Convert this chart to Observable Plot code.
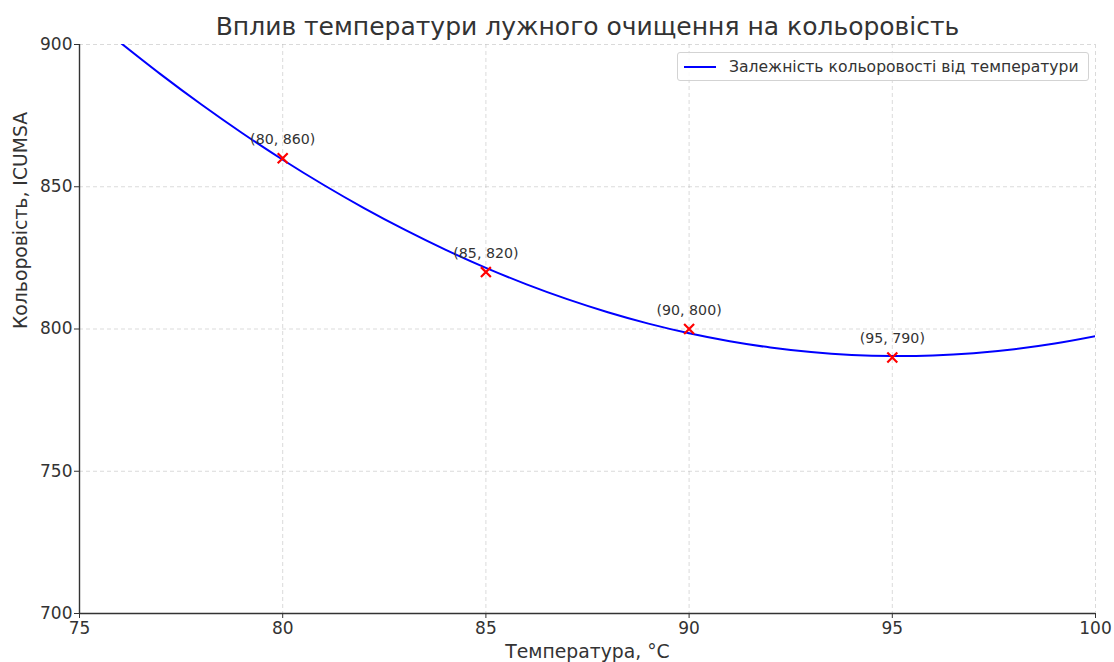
<!DOCTYPE html>
<html>
<head>
<meta charset="utf-8">
<script src="https://cdn.jsdelivr.net/npm/d3@7"></script>
<script src="https://cdn.jsdelivr.net/npm/@observablehq/plot@0.6"></script>
<style>
  html, body { margin: 0; padding: 0; background: #fff; }
  #wrap { position: relative; width: 1114px; height: 662px; font-family: "DejaVu Sans", sans-serif; }
  #legend { position: absolute; left: 677px; top: 52px; width: 412px; height: 29px; border: 1px solid #d3d3d3; border-radius: 3px; background: rgba(255,255,255,0.85); box-sizing: border-box; display: flex; align-items: center; font-size: 15.6px; color: #333; white-space: nowrap; }
  #legend .sw { width: 32px; height: 0; border-top: 2px solid #0000ff; margin-left: 6px; margin-right: 13px; }
</style>
</head>
<body>
<div id="wrap"></div>
<script>
// Measured points
const temps = [80, 85, 90, 95];
const colors = [860, 820, 800, 790];
// Fitted curve
const curveX = [76, 77, 78, 79, 80, 81, 82, 83, 84, 85, 86, 87, 88, 89, 90, 91, 92, 93, 94, 95, 96, 97, 98, 99, 100];
const curveY = [900.7, 889.5, 878.9, 868.9, 859.5, 850.7, 842.5, 834.9, 827.9, 821.5, 815.7, 810.5, 805.9, 801.9, 798.5, 795.7, 793.5, 791.9, 790.9, 790.5, 790.7, 791.5, 792.9, 794.9, 797.5];
const xTicks = [75, 80, 85, 90, 95, 100];
const yTicks = [700, 750, 800, 850, 900];
const titleText = "Вплив температури лужного очищення на кольоровість";
const xLabel = "Температура, °C";
const yLabel = "Кольоровість, ICUMSA";
const legendLabel = "Залежність кольоровості від температури";

const points = temps.map((t, i) => ({x: t, y: colors[i], label: `(${t}, ${colors[i]})`}));
const curve = curveX.map((x, i) => ({x, y: curveY[i]}));

const chart = Plot.plot({
  width: 1114,
  height: 662,
  marginLeft: 79,
  marginRight: 19,
  marginTop: 44,
  marginBottom: 49,
  style: {fontFamily: "DejaVu Sans, sans-serif", fontSize: "17px", color: "#333", background: "#fff"},
  x: {domain: [75, 100], ticks: xTicks, label: null},
  y: {domain: [700, 900], ticks: yTicks, label: null},
  marks: [
    Plot.gridX(xTicks, {stroke: "#b0b0b0", strokeOpacity: 0.6, strokeDasharray: "4,3", strokeWidth: 0.8}),
    Plot.gridY(yTicks, {stroke: "#b0b0b0", strokeOpacity: 0.6, strokeDasharray: "4,3", strokeWidth: 0.8}),
    Plot.line(curve, {x: "x", y: "y", stroke: "#0000ff", strokeWidth: 2, curve: "catmull-rom", clip: true}),
    Plot.dot(points, {x: "x", y: "y", symbol: "times", r: 4.6, stroke: "#ff0000", strokeWidth: 2.2}),
    Plot.text(points, {x: "x", y: "y", text: "label", dy: -19, fontSize: 14.2, fill: "#333"}),
    Plot.axisX({ticks: xTicks, tickSize: 5, tickPadding: 3, fontSize: 17, label: null, stroke: "#333"}),
    Plot.axisY({ticks: yTicks, tickSize: 5, tickPadding: 2, fontSize: 17, label: null, stroke: "#333"}),
    Plot.ruleY([700], {stroke: "#333", strokeWidth: 1.4}),
    Plot.ruleX([75], {stroke: "#333", strokeWidth: 1.4}),
    Plot.text([xLabel], {frameAnchor: "bottom", dy: 44, fontSize: 18.8, fill: "#333"}),
    Plot.text([yLabel], {frameAnchor: "left", dx: -59, rotate: -90, fontSize: 18.8, fill: "#333"}),
    Plot.text([titleText], {frameAnchor: "top", dy: -27, fontSize: 25, fill: "#333"})
  ]
});

const wrap = document.getElementById("wrap");
wrap.appendChild(chart);
const leg = document.createElement("div");
leg.id = "legend";
leg.innerHTML = `<span class="sw"></span><span>${legendLabel}</span>`;
wrap.appendChild(leg);
</script>
</body>
</html>
